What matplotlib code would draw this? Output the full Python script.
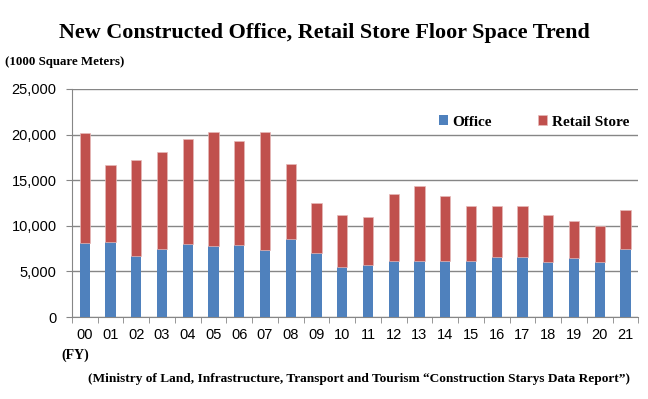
import numpy as np
import matplotlib
matplotlib.use('Agg')
import matplotlib.pyplot as plt
from matplotlib.ticker import FuncFormatter, MultipleLocator

years = ['00', '01', '02', '03', '04', '05', '06', '07', '08', '09', '10',
         '11', '12', '13', '14', '15', '16', '17', '18', '19', '20', '21']
office = [8150, 8270, 6730, 7500, 8050, 7790, 7860, 7390, 8520, 6990, 5450,
          5700, 6100, 6100, 6100, 6100, 6580, 6580, 6000, 6470, 6000, 7500]
total = [20150, 16670, 17220, 18130, 19520, 20290, 19270, 20290, 16820, 12470, 11190,
         10930, 13530, 14400, 13240, 12140, 12220, 12140, 11230, 10570, 10020, 11700]
retail = [t - o for t, o in zip(total, office)]

blue = '#4F81BD'
red = '#C0504D'
serif = ['Liberation Serif', 'DejaVu Serif']
sans = ['Liberation Sans', 'DejaVu Sans']

fig = plt.figure(figsize=(6.48, 3.99), dpi=100)
ax = fig.add_axes([0.111, 0.2055, 0.874, 0.5715])

x = np.arange(len(years))
ax.bar(x, office, width=0.4, color=blue, label='Office', zorder=3)
ax.bar(x, retail, width=0.4, bottom=office, color=red, edgecolor='#E6B9B8',
       linewidth=0.5, label='Retail Store', zorder=3)

ax.set_xlim(-0.5, len(years) - 0.5)
ax.set_ylim(0, 25000)
ax.yaxis.set_major_locator(MultipleLocator(5000))
ax.yaxis.set_major_formatter(FuncFormatter(lambda v, p: f'{int(v):,}'))
ax.grid(axis='y', color='#868686', linewidth=1.0, zorder=0)

ax.set_xticks(x)
ax.set_xticklabels(years, fontfamily=sans, fontsize=10.5)
ax.set_xticks(np.arange(-0.5, len(years)), minor=True)
ax.tick_params(axis='x', which='major', length=0, pad=8)
ax.tick_params(axis='x', which='minor', length=4, color='#868686', direction='out')
ax.tick_params(axis='y', length=4, color='#868686', direction='out', labelsize=10.5, pad=7)
for lab in ax.get_yticklabels():
    lab.set_fontfamily(sans)

for side in ['top', 'right']:
    ax.spines[side].set_visible(False)
for side in ['left', 'bottom']:
    ax.spines[side].set_color('#868686')

leg = ax.legend(loc='center right', ncol=2, frameon=False, bbox_to_anchor=(1.0, 0.855),
                prop={'family': serif, 'weight': 'bold', 'size': 11},
                handlelength=0.6, handleheight=0.6, handletextpad=0.3, columnspacing=3.0,
                borderaxespad=0.2)

fig.text(0.5, 0.917, 'New Constructed Office, Retail Store Floor Space Trend',
         ha='center', va='center', fontfamily=serif, fontweight='bold', fontsize=15.9)
fig.text(0.008, 0.845, '(1000 Square Meters)', ha='left', va='center',
         fontfamily=serif, fontweight='bold', fontsize=9.3)
fig.text(0.094, 0.110, '(FY)', ha='left', va='center',
         fontfamily=serif, fontweight='bold', fontsize=10)
fig.text(0.136, 0.050,
         '(Ministry of Land, Infrastructure, Transport and Tourism \u201cConstruction Starys Data Report\u201d)',
         ha='left', va='center', fontfamily=serif, fontweight='bold', fontsize=9.6)

fig.savefig('out.png', dpi=100)
